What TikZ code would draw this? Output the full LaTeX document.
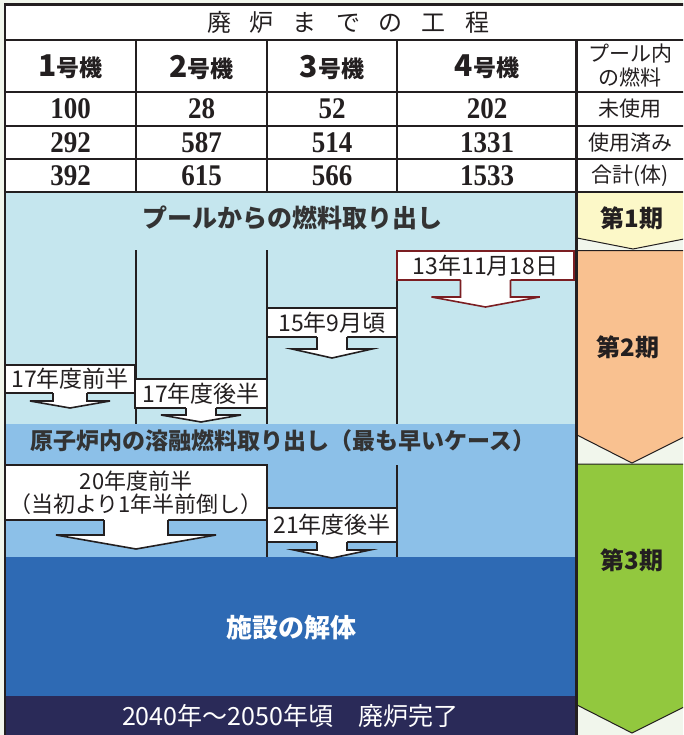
\documentclass[tikz,border=0pt]{standalone}
\usepackage{fontspec}
\setmainfont{Liberation Serif}
\newfontfamily\numf[FakeStretch=0.9]{Liberation Serif}
\newfontfamily\jp{Noto Sans CJK JP}
\usetikzlibrary{calc}
\definecolor{colpale}{HTML}{F1F6EC}
\definecolor{lblue}{HTML}{C5E6EE}
\definecolor{mblue}{HTML}{8CC0E8}
\definecolor{dblue}{HTML}{2E6AB4}
\definecolor{navyc}{HTML}{2A2A58}
\definecolor{orng}{HTML}{F9C190}
\definecolor{grn}{HTML}{92C83E}
\definecolor{pyel}{HTML}{FCF8C8}
\definecolor{ink}{HTML}{231F20}
\definecolor{darkred}{HTML}{7B1E22}
\definecolor{txt}{HTML}{333333}
\newcommand\blkarrow[6]{%
  \fill[white] ($(#1.south)+(-#2,-1.5)$) -- ($(#1.south)+(-#2,#4)$) -- ($(#1.south)+(-#3,#4)$)
    -- ($(#1.south)+(0,#4+#5)$) -- ($(#1.south)+(#3,#4)$) -- ($(#1.south)+(#2,#4)$)
    -- ($(#1.south)+(#2,-1.5)$) -- cycle;
  \draw[draw=#6,line width=1.6pt,line join=miter] ($(#1.south)+(-#2,0)$) -- ($(#1.south)+(-#2,#4)$)
    -- ($(#1.south)+(-#3,#4)$) -- ($(#1.south)+(0,#4+#5)$) -- ($(#1.south)+(#3,#4)$)
    -- ($(#1.south)+(#2,#4)$) -- ($(#1.south)+(#2,0)$);
  \draw[draw=#6,line width=2.4pt] ($(#1.south)+(-#3,#4)$) -- ($(#1.south)+(-#2,#4)$)
    ($(#1.south)+(#2,#4)$) -- ($(#1.south)+(#3,#4)$);
}
\newcommand\hdig[1]{{\fontsize{30}{30}\selectfont #1}}
\begin{document}
\begin{tikzpicture}[x=1pt,y=-1pt,
  tline/.style={line width=2.6pt,draw=ink},
  vline/.style={line width=2pt,draw=ink},
  phase/.style={draw=ink,line width=1pt},
  hdr/.style={font=\jp\bfseries\fontsize{23}{23}\selectfont,text=ink,inner sep=0pt},
  num/.style={font=\numf\bfseries\fontsize{30}{30}\selectfont,text=ink,inner sep=0pt},
  rcol/.style={font=\jp\fontsize{21}{21}\selectfont,text=ink,inner sep=0pt},
  datebox/.style={draw=ink,fill=white,line width=1.6pt,inner sep=0pt,outer sep=0pt,
     font=\jp\fontsize{23}{24}\selectfont,text=ink},
  band/.style={font=\jp\bfseries\fontsize{24}{24}\selectfont,text=txt,inner sep=0pt},
  phlbl/.style={font=\jp\bfseries\fontsize{24}{24}\selectfont,text=ink,inner sep=0pt}]
\useasboundingbox (0,0) rectangle (683,735);
\clip (0,0) rectangle (683,735);
\fill[colpale] (0,0) rectangle (683,735);
\fill[white] (5,4.5) rectangle (690,192);
\fill[lblue] (5,192) rectangle (576,424);
\fill[mblue] (5,424) rectangle (576,557);
\fill[dblue] (5,557) rectangle (576,696);
\fill[navyc] (5,696) rectangle (576,740);
% phases
\filldraw[phase,fill=pyel] (577,192) -- (577,238) -- (633,249) -- (689,238) -- (689,192);
\filldraw[phase,fill=orng] (577,250.5) -- (577,435) -- (632,463) -- (688,435) -- (688,250.5) -- cycle;
\filldraw[phase,fill=grn] (577,464) -- (577,705) -- (632,733) -- (688,705) -- (688,464) -- cycle;
% table grid
\draw[tline] (5,740) -- (5,4.5) -- (690,4.5);
\foreach \y in {40,92,126,159,192} \draw[tline] (5,\y) -- (690,\y);
\foreach \x in {136,267,397,576.5} \draw[tline] (\x,40) -- (\x,192);
\draw[tline] (576.5,192) -- (576.5,740);
% title
\node[font=\jp\fontsize{24}{24}\selectfont,text=ink,inner sep=0pt] (title) at (348,22)
  {廃\hspace{19pt}炉\hspace{19pt}ま\hspace{19pt}で\hspace{19pt}の\hspace{19pt}工\hspace{19pt}程};
% header
\node[hdr] (c1) at (70.5,67) {\hdig{1}号機};
\node[hdr] (c2) at (201.5,67) {\hdig{2}号機};
\node[hdr] (c3) at (332,67) {\hdig{3}号機};
\node[hdr] (c4) at (487,67) {\hdig{4}号機};
\node[rcol,align=center,font=\jp\fontsize{21}{24}\selectfont] (c5) at (630,66) {プール内\\の燃料};
% rows
\node[num] (n11) at (70.5,109) {100};
\node[num] (n12) at (201.5,109) {28};
\node[num] (n13) at (332,109) {52};
\node[num] (n14) at (487,109) {202};
\node[rcol] (n15) at (630,109) {未使用};
\node[num] (n21) at (70.5,142.5) {292};
\node[num] (n22) at (201.5,142.5) {587};
\node[num] (n23) at (332,142.5) {514};
\node[num] (n24) at (487,142.5) {1331};
\node[rcol] (n25) at (630,142.5) {使用済み};
\node[num] (n31) at (70.5,175.5) {392};
\node[num] (n32) at (201.5,175.5) {615};
\node[num] (n33) at (332,175.5) {566};
\node[num] (n34) at (487,175.5) {1533};
\node[rcol] (n35) at (630,175.5) {合計(体)};
% band texts
\node[band,font=\jp\bfseries\fontsize{25}{25}\selectfont] (b1) at (292,218) {プールからの燃料取り出し};
\node[band,font=\jp\bfseries\fontsize{23}{23}\selectfont] (b2) at (283,441) {原子炉内の溶融燃料取り出し（最も早いケース）};
\node[band,text=white,font=\jp\bfseries\fontsize{26}{26}\selectfont] (b3) at (291,628) {施設の解体};
\node[band,text=white,font=\jp\fontsize{25}{25}\selectfont] (b4) at (290,716) {2040年～2050年頃　廃炉完了};
% phase labels
\node[phlbl] (ph1) at (632,218) {第1期};
\node[phlbl] (ph2) at (628,347) {第2期};
\node[phlbl] (ph3) at (632,560) {第3期};
% timeline dividers
\draw[vline] (136,250) -- (136,424);
\draw[vline] (267,250) -- (267,424);
\draw[vline] (397,250) -- (397,424);
\draw[vline] (267,465) -- (267,557);
\draw[vline] (397,465) -- (397,557);
% date boxes
\node[datebox,minimum width=130pt,minimum height=28pt] (d17a) at (70,379) {17年度前半};
\node[datebox,minimum width=132pt,minimum height=29pt] (d17b) at (201,393.5) {17年度後半};
\node[datebox,minimum width=130pt,minimum height=29pt] (d15) at (332,322.5) {15年9月頃};
\node[datebox,draw=darkred,line width=2pt,minimum width=177pt,minimum height=29pt] (d13) at (485.5,265.5) {13年11月18日};
\node[datebox,font=\jp\fontsize{22}{23}\selectfont,minimum width=262pt,minimum height=55pt,align=center] (d20) at (136,492.5) {20年度前半\\（当初より1年半前倒し）};
\node[datebox,minimum width=130pt,minimum height=34pt] (d21) at (332,525) {21年度後半};
% block arrows
\blkarrow{d17a}{17}{40}{8}{7}{ink}
\blkarrow{d17b}{15}{40}{7}{7}{ink}
\blkarrow{d15}{15}{40}{12}{9}{ink}
\blkarrow{d13}{25}{54}{17}{10}{darkred}
\blkarrow{d20}{32}{80}{15}{14}{ink}
\blkarrow{d21}{15}{38}{8}{8}{ink}
\end{tikzpicture}
\end{document}
